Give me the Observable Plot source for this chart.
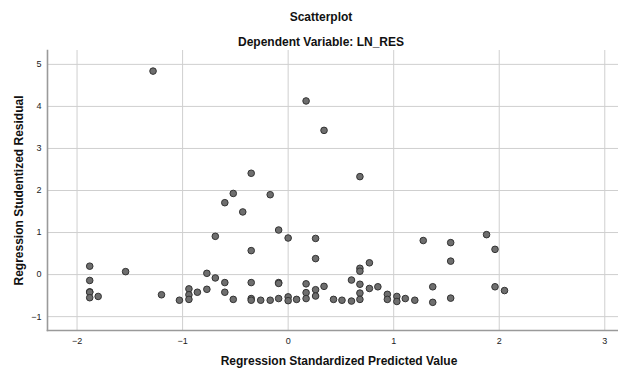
<!DOCTYPE html>
<html>
<head>
<meta charset="utf-8">
<script src="https://cdn.jsdelivr.net/npm/d3@7"></script>
<script src="https://cdn.jsdelivr.net/npm/@observablehq/plot@0.6"></script>
<style>
  html, body { margin: 0; padding: 0; background: #fff; }
  body { width: 618px; height: 369px; overflow: hidden; font-family: "Liberation Sans", Arial, sans-serif; }
  .hdr { width: 618px; height: 48px; position: relative; }
  .t1, .t2 { position: absolute; left: 0; width: 642px; text-align: center; font-weight: bold; font-size: 12px; color: #111; }
  .t1 { top: 10px; }
  .t2 { top: 35px; }
</style>
</head>
<body>
<div class="hdr"><div class="t1">Scatterplot</div><div class="t2">Dependent Variable: LN_RES</div></div>
<div id="chart"></div>
<script>
// Predicted (x) and residual (y) values
const predicted = [
  -1.28, 0.17, 0.34, -0.35, 0.68,
  -1.88, -1.88, -1.88, -1.88, -1.88, -1.80, -1.54, -1.20, -1.03,
  -0.94, -0.94, -0.94, -0.86, -0.77, -0.77, -0.69, -0.69,
  -0.60, -0.60, -0.60, -0.52, -0.52,
  -0.17, -0.43, -0.09, 0.00, 0.26, 0.26, -0.35, -0.35, -0.09, -0.09,
  0.17, 0.17, 0.17, 0.26, 0.26, 0.34,
  -0.35, -0.35, -0.26, -0.17, -0.09, 0.00, 0.00, 0.08,
  0.43, 0.51, 0.60, 0.60, 0.68, 0.68, 0.77, 0.68, 0.68, 0.68,
  0.77, 0.85, 0.94, 0.94, 1.03, 1.03, 1.11, 1.20, 1.28,
  1.54, 1.54, 1.88, 1.96, 1.37, 1.37, 1.54, 1.96, 2.05
];
const residual = [
  4.84, 4.13, 3.43, 2.41, 2.33,
  0.20, -0.14, -0.41, -0.42, -0.55, -0.52, 0.07, -0.48, -0.61,
  -0.34, -0.48, -0.59, -0.42, 0.03, -0.35, 0.91, -0.08,
  1.71, -0.19, -0.42, 1.93, -0.59,
  1.90, 1.49, 1.06, 0.87, 0.86, 0.38, 0.57, -0.19, -0.19, -0.21,
  -0.22, -0.43, -0.57, -0.36, -0.51, -0.28,
  -0.57, -0.61, -0.61, -0.61, -0.57, -0.53, -0.62, -0.59,
  -0.59, -0.61, -0.63, -0.13, 0.15, 0.08, 0.28, -0.23, -0.44, -0.59,
  -0.33, -0.29, -0.47, -0.59, -0.52, -0.64, -0.57, -0.61, 0.81,
  0.76, 0.32, 0.95, 0.60, -0.29, -0.66, -0.56, -0.29, -0.38
];
const xTicks = [-2, -1, 0, 1, 2, 3];
const yTicks = [-1, 0, 1, 2, 3, 4, 5];
const xLabel = "Regression Standardized Predicted Value";
const yLabel = "Regression Studentized Residual";

const data = predicted.map((p, i) => ({x: p, y: residual[i]}));

const chart = Plot.plot({
  width: 618,
  height: 321,
  marginTop: 2,
  marginBottom: 39,
  marginLeft: 47,
  marginRight: 0,
  style: {fontFamily: "'Liberation Sans', Arial, sans-serif", background: "#fff"},
  x: {domain: [-2.28, 3.13]},
  y: {domain: [-1.33, 5.33]},
  marks: [
    Plot.gridX(xTicks, {stroke: "#cfcfcf", strokeOpacity: 1, strokeWidth: 1}),
    Plot.gridY(yTicks, {stroke: "#cfcfcf", strokeOpacity: 1, strokeWidth: 1}),
    Plot.axisX(xTicks, {tickSize: 0, tickPadding: 7, label: null, fontSize: 9, fill: "#222"}),
    Plot.axisY(yTicks, {tickSize: 0, tickPadding: 6, label: null, fontSize: 9, fill: "#222"}),
    Plot.frame({anchor: "left", stroke: "#9a9a9a", strokeWidth: 1.6}),
    Plot.frame({anchor: "bottom", stroke: "#9a9a9a", strokeWidth: 1.6}),
    Plot.dot(data, {x: "x", y: "y", r: 3.3, fill: "#6e6e6e", stroke: "#333", strokeWidth: 1}),
    Plot.text([xLabel], {frameAnchor: "bottom", textAnchor: "middle", lineAnchor: "middle", dy: 31, dx: 6, fontWeight: "bold", fontSize: 12, fill: "#111"}),
    Plot.text([yLabel], {frameAnchor: "left", textAnchor: "middle", lineAnchor: "middle", rotate: -90, dx: -28, dy: 0, fontWeight: "bold", fontSize: 12, fill: "#111"})
  ]
});
document.getElementById("chart").appendChild(chart);
</script>
</body>
</html>
